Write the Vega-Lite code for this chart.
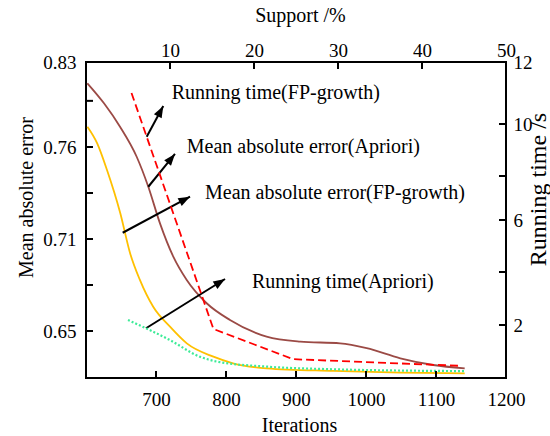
{
  "$schema": "https://vega.github.io/schema/vega-lite/v6.json",
  "width": 420,
  "height": 316,
  "autosize": {"type": "none"},
  "padding": {"left": 86, "top": 62, "right": 44, "bottom": 58},
  "background": "white",
  "config": {
    "view": {"stroke": "black", "strokeWidth": 2},
    "font": "Liberation Serif",
    "axis": {
      "grid": false,
      "domain": false,
      "ticks": true,
      "offset": -7,
      "tickColor": "black",
      "tickOpacity": 0,
      "tickSize": 7,
      "labelFont": "Liberation Serif",
      "titleFont": "Liberation Serif",
      "labelFontSize": 19,
      "titleFontSize": 20,
      "labelColor": "black",
      "titleColor": "black",
      "titleFontWeight": "normal",
      "labelFlush": false,
      "labelOverlap": false
    }
  },
  "datasets": {
    "mae": [
      {"series": "Apriori", "iterations": 601.9, "mae": 0.8125},
      {"series": "Apriori", "iterations": 625.7, "mae": 0.796},
      {"series": "Apriori", "iterations": 648.6, "mae": 0.7767},
      {"series": "Apriori", "iterations": 672.4, "mae": 0.7547},
      {"series": "Apriori", "iterations": 689, "mae": 0.7384},
      {"series": "Apriori", "iterations": 705.7, "mae": 0.7185},
      {"series": "Apriori", "iterations": 724.7, "mae": 0.6985},
      {"series": "Apriori", "iterations": 743.9, "mae": 0.6833},
      {"series": "Apriori", "iterations": 772.4, "mae": 0.6681},
      {"series": "Apriori", "iterations": 805.7, "mae": 0.6572},
      {"series": "Apriori", "iterations": 858, "mae": 0.6464},
      {"series": "Apriori", "iterations": 906, "mae": 0.6432},
      {"series": "Apriori", "iterations": 963, "mae": 0.6421},
      {"series": "Apriori", "iterations": 1001, "mae": 0.639},
      {"series": "Apriori", "iterations": 1049, "mae": 0.6326},
      {"series": "Apriori", "iterations": 1096, "mae": 0.6283},
      {"series": "Apriori", "iterations": 1141, "mae": 0.6262},
      {"series": "FP-growth", "iterations": 602, "mae": 0.7767},
      {"series": "FP-growth", "iterations": 616, "mae": 0.763},
      {"series": "FP-growth", "iterations": 630, "mae": 0.7475},
      {"series": "FP-growth", "iterations": 649, "mae": 0.724},
      {"series": "FP-growth", "iterations": 663, "mae": 0.7007},
      {"series": "FP-growth", "iterations": 677, "mae": 0.6833},
      {"series": "FP-growth", "iterations": 696, "mae": 0.6658},
      {"series": "FP-growth", "iterations": 720, "mae": 0.6528},
      {"series": "FP-growth", "iterations": 744, "mae": 0.6421},
      {"series": "FP-growth", "iterations": 782, "mae": 0.6336},
      {"series": "FP-growth", "iterations": 810, "mae": 0.6294},
      {"series": "FP-growth", "iterations": 858, "mae": 0.6262},
      {"series": "FP-growth", "iterations": 953, "mae": 0.6245},
      {"series": "FP-growth", "iterations": 1049, "mae": 0.6234},
      {"series": "FP-growth", "iterations": 1141, "mae": 0.623}
    ],
    "time": [
      {"series": "FP-growth", "iterations": 665, "time": 11.0},
      {"series": "FP-growth", "iterations": 782, "time": 1.85},
      {"series": "FP-growth", "iterations": 896, "time": 0.71},
      {"series": "FP-growth", "iterations": 1134, "time": 0.46},
      {"series": "Apriori", "iterations": 660, "time": 2.19},
      {"series": "Apriori", "iterations": 720, "time": 1.43},
      {"series": "Apriori", "iterations": 763, "time": 0.8},
      {"series": "Apriori", "iterations": 787, "time": 0.62},
      {"series": "Apriori", "iterations": 858, "time": 0.43},
      {"series": "Apriori", "iterations": 953, "time": 0.33},
      {"series": "Apriori", "iterations": 1141, "time": 0.26}
    ],
    "arrows": [
      {"iterations": 686.7, "mae": 0.7685, "iterations_end": 710.4, "mae_end": 0.7938, "angle": 28},
      {"iterations": 689, "mae": 0.7384, "iterations_end": 727.1, "mae_end": 0.7562, "angle": 39},
      {"iterations": 652.4, "mae": 0.7134, "iterations_end": 748.6, "mae_end": 0.733, "angle": 62},
      {"iterations": 685.7, "mae": 0.6518, "iterations_end": 798.6, "mae_end": 0.6839, "angle": 58}
    ],
    "notes": [
      {"iterations": 722.4, "mae": 0.8042, "label": "Running time(FP-growth)"},
      {"iterations": 743.9, "mae": 0.7602, "label": "Mean absolute error(Apriori)"},
      {"iterations": 770, "mae": 0.7348, "label": "Mean absolute error(FP-growth)"},
      {"iterations": 837.1, "mae": 0.6822, "label": "Running time(Apriori)"}
    ],
    "tick_iterations": [{"iterations": 700}, {"iterations": 800}, {"iterations": 900}, {"iterations": 1000}, {"iterations": 1100}],
    "tick_mae": [{"mae": 0.65}, {"mae": 0.68}, {"mae": 0.71}, {"mae": 0.735}, {"mae": 0.76}, {"mae": 0.798}],
    "tick_time": [{"time": 2}, {"time": 4}, {"time": 6}, {"time": 8}, {"time": 10}],
    "tick_support": [{"support": 10}, {"support": 20}, {"support": 30}, {"support": 40}],
    "support": [{"support": 0}, {"support": 50}]
  },
  "layer": [
    {
      "layer": [
        {
          "data": {"name": "mae"},
          "mark": {"type": "line", "interpolate": "monotone", "strokeWidth": 1.8},
          "encoding": {
            "x": {
              "field": "iterations", "type": "quantitative",
              "scale": {"domain": [600, 1200], "nice": false, "zero": false},
              "axis": {
                "orient": "bottom", "title": "Iterations",
                "values": [700, 800, 900, 1000, 1100, 1200],
                "format": "d",
                "labelPadding": 12,
                "titleX": 213, "titleY": 60, "titleBaseline": "alphabetic", "titleAlign": "center"
              }
            },
            "y": {
              "field": "mae", "type": "quantitative",
              "scale": {"domain": [0.62, 0.65, 0.71, 0.76, 0.83], "range": [316, 269, 177, 85, 0], "zero": false, "nice": false},
              "axis": {
                "orient": "left", "title": "Mean absolute error",
                "values": [0.65, 0.68, 0.71, 0.735, 0.76, 0.798, 0.83],
                "format": ".2f",
                "labelExpr": "indexof([0.65, 0.71, 0.76, 0.83], datum.value) >= 0 ? datum.label : ''",
                "labelPadding": 10,
                "titleX": -61, "titleY": 135, "titleAngle": -90, "titleBaseline": "alphabetic", "titleAlign": "center"
              }
            },
            "color": {
              "field": "series", "type": "nominal",
              "scale": {"domain": ["Apriori", "FP-growth"], "range": ["#9b4a45", "#ffc000"]},
              "legend": null
            }
          }
        },
        {
          "data": {"name": "arrows"},
          "mark": {"type": "rule", "color": "black", "strokeWidth": 2},
          "encoding": {
            "x": {"field": "iterations", "type": "quantitative"},
            "y": {"field": "mae", "type": "quantitative"},
            "x2": {"field": "iterations_end"},
            "y2": {"field": "mae_end"}
          }
        },
        {
          "data": {"name": "arrows"},
          "mark": {"type": "point", "shape": "M0,0L-0.45,1.2L0.45,1.2Z", "filled": true, "color": "black", "opacity": 1, "size": 380},
          "encoding": {
            "x": {"field": "iterations_end", "type": "quantitative"},
            "y": {"field": "mae_end", "type": "quantitative"},
            "angle": {"field": "angle", "type": "quantitative", "scale": null}
          }
        },
        {
          "data": {"name": "notes"},
          "mark": {"type": "text", "align": "left", "baseline": "middle", "fontSize": 20, "font": "Liberation Serif", "color": "black"},
          "encoding": {
            "x": {"field": "iterations", "type": "quantitative"},
            "y": {"field": "mae", "type": "quantitative"},
            "text": {"field": "label"}
          }
        }
      ]
    },
    {
      "layer": [
        {
          "data": {"name": "time"},
          "transform": [{"filter": "datum.series == 'FP-growth'"}],
          "mark": {"type": "line", "color": "#ff0000", "strokeWidth": 1.8, "strokeDash": [8, 4]},
          "encoding": {
            "x": {"field": "iterations", "type": "quantitative", "scale": {"domain": [600, 1200], "nice": false, "zero": false}, "axis": null},
            "y": {
              "field": "time", "type": "quantitative",
              "scale": {"domain": [0, 2, 4, 6, 8, 10, 12], "range": [316, 263, 210, 158, 114, 62, 0], "zero": false, "nice": false},
              "axis": {
                "orient": "right", "title": "Running time /s",
                "values": [2, 4, 6, 8, 10, 12],
                "labelExpr": "datum.value == 4 || datum.value == 8 ? '' : datum.label",
                "labelPadding": 7,
                "titleFontSize": 24,
                "titleX": 46, "titleY": 127, "titleAngle": -90, "titleBaseline": "alphabetic", "titleAlign": "center"
              }
            }
          }
        },
        {
          "data": {"name": "time"},
          "transform": [{"filter": "datum.series == 'Apriori'"}],
          "mark": {"type": "line", "color": "#3deb98", "strokeWidth": 2.2, "strokeDash": [2, 2], "interpolate": "monotone"},
          "encoding": {
            "x": {"field": "iterations", "type": "quantitative"},
            "y": {"field": "time", "type": "quantitative"}
          }
        },
        {
          "data": {"name": "tick_time"},
          "mark": {"type": "rule", "color": "black", "strokeWidth": 2, "x2Offset": -7},
          "encoding": {
            "y": {"field": "time", "type": "quantitative"},
            "x": {"datum": 1200, "type": "quantitative"},
            "x2": {"datum": 1200}
          }
        }
      ]
    },
    {
      "layer": [
        {
          "data": {"name": "support"},
          "mark": {"type": "point", "opacity": 0},
          "encoding": {
            "x": {
              "field": "support", "type": "quantitative",
              "scale": {"domain": [0, 50], "nice": false, "zero": false},
              "axis": {
                "orient": "top", "title": "Support /%",
                "values": [10, 20, 30, 40, 50],
                "labelPadding": 2,
                "titleX": 214, "titleY": -48, "titleBaseline": "alphabetic", "titleAlign": "center"
              }
            }
          }
        },
        {
          "data": {"name": "tick_support"},
          "mark": {"type": "rule", "color": "black", "strokeWidth": 2, "y2Offset": 7},
          "encoding": {
            "x": {"field": "support", "type": "quantitative"},
            "y": {"datum": 1, "type": "quantitative", "scale": {"domain": [0, 1], "nice": false, "zero": false}, "axis": null},
            "y2": {"datum": 1}
          }
        }
      ]
    },
    {
      "layer": [
        {
          "data": {"name": "tick_iterations"},
          "mark": {"type": "rule", "color": "black", "strokeWidth": 2, "y2Offset": -7},
          "encoding": {
            "x": {"field": "iterations", "type": "quantitative", "scale": {"domain": [600, 1200], "nice": false, "zero": false}, "axis": null},
            "y": {"datum": 0, "type": "quantitative", "scale": {"domain": [0, 1], "nice": false, "zero": false}, "axis": null},
            "y2": {"datum": 0}
          }
        }
      ]
    },
    {
      "layer": [
        {
          "data": {"name": "tick_mae"},
          "mark": {"type": "rule", "color": "black", "strokeWidth": 2, "x2Offset": 7},
          "encoding": {
            "y": {"field": "mae", "type": "quantitative", "scale": {"domain": [0.62, 0.65, 0.71, 0.76, 0.83], "range": [316, 269, 177, 85, 0], "zero": false, "nice": false}, "axis": null},
            "x": {"datum": 0, "type": "quantitative", "scale": {"domain": [0, 1], "nice": false, "zero": false}, "axis": null},
            "x2": {"datum": 0}
          }
        }
      ]
    }
  ],
  "resolve": {"scale": {"x": "independent", "y": "independent"}, "axis": {"x": "independent", "y": "independent"}}
}
